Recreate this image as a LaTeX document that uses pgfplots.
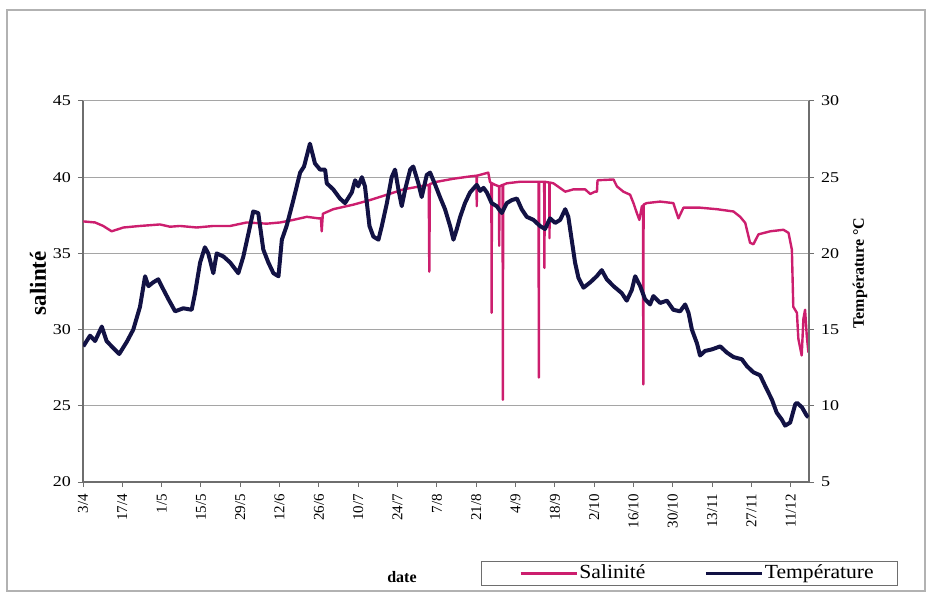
\documentclass[border=0pt]{standalone}
\usepackage{fontspec}
\setmainfont{Liberation Serif}
\newfontfamily\wideserif[FakeStretch=1.2]{Liberation Serif}
\newfontfamily\legserif[FakeStretch=1.08]{Liberation Serif}
\usepackage{pgfplots}
\pgfplotsset{compat=1.18}
\definecolor{sal}{RGB}{204,30,110}
\definecolor{tem}{RGB}{18,18,68}
\definecolor{gridc}{RGB}{165,165,165}
\definecolor{axc}{RGB}{110,110,110}

\begin{document}
\begin{tikzpicture}[x=1pt,y=1pt]
\useasboundingbox (0,0) rectangle (465,297);
\draw[gray!60, line width=0.6pt] (3.5,1.5) rectangle (462.5,292);
\pgfplotsset{
  common/.style={
    at={(41.5pt,56pt)}, anchor=south west,
    scale only axis, width=363pt, height=190.5pt,
    xmin=0, xmax=258.5,
    tick align=outside, major tick length=2.5pt,
    tick style={axc, line width=0.5pt},
    axis line style={axc, line width=0.6pt},
    /pgf/number format/assume math mode=true,
    yticklabel style={font=\wideserif\fontsize{7.5}{9}\selectfont},
  }
}
\begin{axis}[common,
  axis x line*=bottom, axis y line*=left,
  ymin=20, ymax=45, ytick={20,25,...,45},
  ymajorgrids, grid style={gridc, line width=0.5pt},
  xtick={0,14,...,252},
  xticklabels={3/4,17/4,1/5,15/5,29/5,12/6,26/6,10/7,24/7,7/8,21/8,4/9,18/9,2/10,16/10,30/10,13/11,27/11,11/12},
  xticklabel style={rotate=90, anchor=east, font=\fontsize{7.5}{9}\selectfont},
  xlabel={date},
  xlabel style={at={(axis description cs:0.4394,-0.249)}, anchor=center, font=\bfseries\fontsize{8}{10}\selectfont},
  ylabel={salinté},
  ylabel style={at={(axis description cs:-0.062,0.522)}, anchor=center, font=\bfseries\fontsize{11.5}{13}\selectfont},
]
\addplot[sal, line width=1.2pt, line join=round] coordinates {
(0.1,37.1) (4.3,37.03) (7.2,36.8) (10.2,36.45) (14.4,36.7) (20.3,36.8) (27.4,36.9) (31.0,36.75) (34.5,36.8) (40.5,36.7) (46.4,36.8) (52.4,36.8) (58.3,37.03) (65.4,36.95) (70.2,37.03) (74.9,37.2) (79.7,37.4) (83.8,37.3) (84.7,37.3) (85.0,36.45) (85.4,37.6) (89.1,37.9) (96.3,38.2) (102.2,38.5) (108.2,38.85) (114.1,39.2) (120.0,39.4) (123.1,39.5) (123.3,33.8) (123.5,39.55) (126.0,39.7) (131.9,39.9) (137.8,40.05) (140.1,40.1) (140.2,38.1) (140.3,40.1) (144.3,40.3) (144.9,39.7) (145.4,39.6) (145.5,31.1) (145.6,39.6) (146.7,39.5) (148.1,39.4) (148.2,35.5) (148.3,39.4) (149.4,39.5) (149.5,25.4) (149.6,39.5) (150.9,39.6) (155.6,39.7) (160.4,39.7) (162.2,39.7) (162.3,26.85) (162.4,39.7) (164.2,39.7) (164.3,34.05) (164.4,39.7) (166.0,39.65) (166.1,36.0) (166.2,39.65) (167.5,39.6) (171.7,39.05) (174.6,39.2) (178.8,39.2) (180.6,38.9) (182.3,39.05) (183.0,39.05) (183.2,39.8) (188.9,39.85) (190.1,39.4) (192.4,39.05) (194.8,38.85) (196.0,38.3) (197.2,37.65) (198.1,37.2) (199.0,38.1) (199.4,38.1) (199.5,26.4) (199.6,38.2) (200.7,38.3) (205.5,38.4) (210.2,38.3) (212.0,37.3) (213.8,38.0) (219.7,38.0) (225.7,37.9) (231.6,37.75) (234.0,37.4) (235.8,37.0) (237.5,35.7) (238.7,35.6) (240.5,36.25) (244.7,36.45) (249.4,36.55) (251.2,36.35) (252.4,35.25) (252.9,31.5) (254.2,31.1) (254.7,29.4) (255.9,28.3) (256.5,30.7) (257.1,31.3) (257.7,29.6) (258.3,28.5)
};
\end{axis}
\begin{axis}[common,
  axis x line=none, axis y line*=right,
  ymin=5, ymax=30, ytick={5,10,...,30},
  ylabel={Température °C},
  ylabel style={at={(axis description cs:1.0702,0.5486)}, anchor=center, rotate=0, font=\bfseries\fontsize{8}{10}\selectfont},
  legend columns=2,
  legend style={at={(axis description cs:0.5482,-0.273)}, anchor=south west, draw=axc, line width=0.5pt, inner xsep=2pt, inner ysep=1pt, font=\legserif\fontsize{10}{11}\selectfont, nodes={inner sep=0.8pt}, /tikz/every even column/.append style={column sep=12pt}},
  legend image code/.code={\path[draw=none] (0pt,0pt) -- (17.5pt,0pt); \draw[#1, line width=1.3pt] (17.5pt,0pt) -- (45.5pt,0pt);},
]
\addlegendimage{sal}
\addlegendentry{Salinité}
\addplot[tem, line width=2pt, line join=round] coordinates {
(0.1,13.9) (2.5,14.6) (4.3,14.25) (6.7,15.2) (8.4,14.25) (10.2,13.9) (12.9,13.4) (15.6,14.2) (17.9,15.0) (20.3,16.5) (22.1,18.5) (23.3,17.85) (25.0,18.1) (26.8,18.3) (28.0,17.85) (30.4,17.0) (32.8,16.2) (35.7,16.4) (38.7,16.3) (39.9,17.4) (41.7,19.4) (43.4,20.4) (44.6,20.0) (46.4,18.7) (47.6,20.0) (50.0,19.8) (52.4,19.4) (55.3,18.7) (57.1,19.8) (58.9,21.3) (60.6,22.75) (62.4,22.65) (64.2,20.25) (66.0,19.4) (67.8,18.7) (69.6,18.5) (70.8,20.9) (72.5,21.8) (74.9,23.5) (77.3,25.3) (78.7,25.7) (80.8,27.2) (82.6,25.9) (84.4,25.5) (86.2,25.5) (86.8,24.6) (89.1,24.2) (91.5,23.6) (93.3,23.3) (95.7,24.0) (96.9,24.8) (98.0,24.4) (99.3,25.0) (100.4,24.4) (102.0,21.8) (103.4,21.1) (105.2,20.9) (106.4,21.8) (108.2,23.3) (109.9,25.0) (111.1,25.5) (112.3,24.2) (113.5,23.1) (114.7,24.2) (116.5,25.5) (117.6,25.7) (119.4,24.6) (120.6,23.7) (122.4,25.15) (123.6,25.3) (125.4,24.5) (127.1,23.7) (128.9,22.9) (130.7,21.8) (131.9,20.9) (133.1,21.6) (134.3,22.4) (136.0,23.3) (137.8,24.0) (140.2,24.5) (141.4,24.1) (142.6,24.3) (143.8,24.0) (145.5,23.3) (147.3,23.1) (149.1,22.65) (150.9,23.3) (152.7,23.5) (154.5,23.6) (156.2,22.9) (158.0,22.4) (160.4,22.2) (162.7,21.8) (164.5,21.6) (166.3,22.3) (168.1,22.0) (169.9,22.2) (171.7,22.9) (172.8,22.4) (174.0,20.9) (175.2,19.4) (176.4,18.4) (178.2,17.75) (180.6,18.1) (182.9,18.5) (184.7,18.9) (186.5,18.3) (188.9,17.85) (191.8,17.4) (193.6,16.9) (195.4,17.6) (196.6,18.5) (198.4,17.85) (200.1,17.0) (201.9,16.65) (203.1,17.2) (205.5,16.75) (207.9,16.9) (210.2,16.3) (212.6,16.2) (214.4,16.65) (215.6,16.1) (216.8,15.0) (218.6,14.1) (219.7,13.3) (221.5,13.6) (223.9,13.7) (226.9,13.9) (229.2,13.5) (231.6,13.2) (234.6,13.05) (236.4,12.6) (238.7,12.2) (241.1,12.0) (242.9,11.3) (245.3,10.4) (247.0,9.55) (248.8,9.1) (250.0,8.7) (251.8,8.9) (253.6,10.1) (254.2,10.2) (256.0,9.9) (257.7,9.35) (258.3,9.25)
};
\addlegendentry{Température\rule{9pt}{0pt}}
\end{axis}
\end{tikzpicture}
\end{document}
